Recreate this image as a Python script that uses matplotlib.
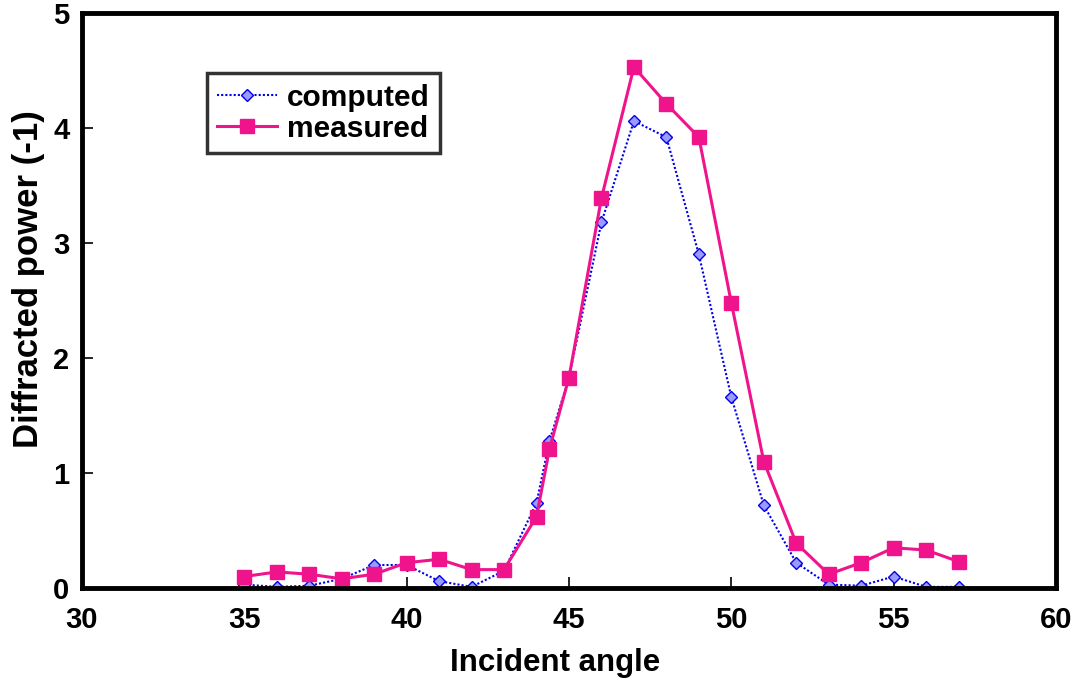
import matplotlib
matplotlib.use('Agg')
import matplotlib.pyplot as plt

# Data
angles = [35, 36, 37, 38, 39, 40, 41, 42, 43, 44, 44.4, 45, 46, 47, 48, 49,
          50, 51, 52, 53, 54, 55, 56, 57]
computed = [0.03, 0.01, 0.02, 0.08, 0.20, 0.20, 0.06, 0.01, 0.15, 0.74, 1.28, 1.83,
            3.18, 4.06, 3.92, 2.90, 1.66, 0.72, 0.22, 0.03, 0.02, 0.10, 0.01, 0.01]
measured = [0.10, 0.14, 0.12, 0.08, 0.12, 0.22, 0.25, 0.16, 0.16, 0.62, 1.21, 1.83,
            3.39, 4.53, 4.21, 3.92, 2.48, 1.10, 0.39, 0.12, 0.22, 0.35, 0.33, 0.23]

x_ticks = [30, 35, 40, 45, 50, 55, 60]
y_ticks = [0, 1, 2, 3, 4, 5]

plt.rcParams['font.family'] = ['Liberation Sans', 'DejaVu Sans']
plt.rcParams['font.weight'] = 'bold'

fig = plt.figure(figsize=(10.77, 6.82), dpi=100)
ax = fig.add_axes([0.0761, 0.1378, 0.9044, 0.8432])

ax.plot(angles, computed, color='#0000ee', linestyle=(0, (1, 1)), linewidth=1.5,
        marker='D', markersize=6.5, markerfacecolor='#9a9aff',
        markeredgecolor='#0000ee', markeredgewidth=1.0, label='computed')
ax.plot(angles, measured, color='#f0148c', linewidth=2.2,
        marker='s', markersize=10, markerfacecolor='#f0148c',
        markeredgecolor='#f0148c', label='measured')

ax.set_xlim(30, 60)
ax.set_ylim(0, 5)
ax.set_xticks(x_ticks)
ax.set_yticks(y_ticks)
ax.tick_params(direction='in', length=8, width=1.2, labelsize=21)
ax.tick_params(axis='x', pad=13)
ax.tick_params(axis='y', pad=9)
for s in ax.spines.values():
    s.set_linewidth(3.5)

ax.set_xlabel('Incident angle', fontsize=22.5, fontweight='bold', labelpad=10)
ax.set_ylabel('Diffracted power (-1)', fontsize=25, fontweight='bold', labelpad=6)
ax.xaxis.label.set_x(0.486)
ax.yaxis.label.set_y(0.537)

leg = ax.legend(loc='upper left', bbox_to_anchor=(0.128, 0.895), fontsize=21.5,
                frameon=True, fancybox=False, edgecolor='black',
                handlelength=2.0, borderpad=0.35, labelspacing=0.1,
                handletextpad=0.35, borderaxespad=0)
leg.get_frame().set_linewidth(2.5)
for t in leg.get_texts():
    t.set_fontweight('bold')

fig.savefig('out.png', dpi=100)
